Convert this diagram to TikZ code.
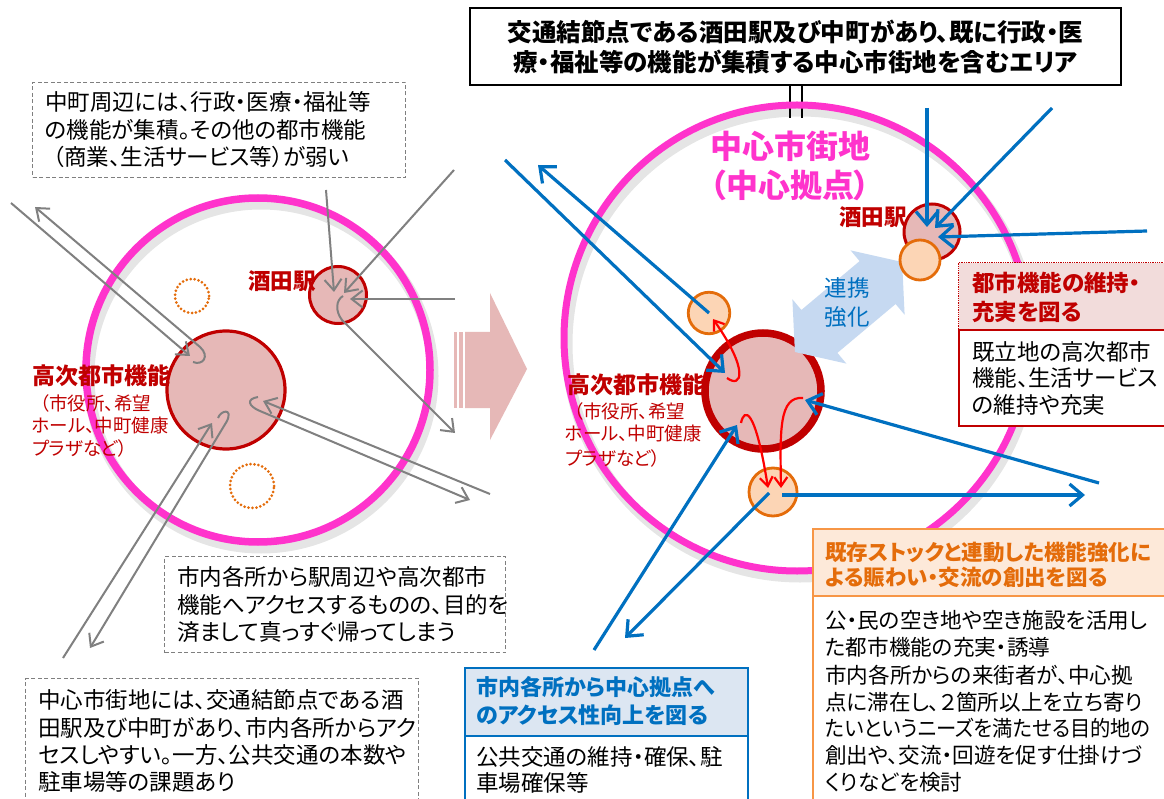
\documentclass[tikz,border=0pt]{standalone}
\usepackage{fontspec}
\newfontfamily\jp[RawFeature=+palt]{Noto Sans CJK JP}
\usetikzlibrary{arrows.meta}
\definecolor{pinkc}{HTML}{FF33CC}
\definecolor{dred}{HTML}{C00000}
\definecolor{cfill}{HTML}{E6B8B7}
\definecolor{ofill}{HTML}{FCD5B5}
\definecolor{oline}{HTML}{E46C0A}
\definecolor{blu}{HTML}{0070C0}
\definecolor{lblu}{HTML}{C6D9F1}
\definecolor{grayc}{HTML}{808080}
\definecolor{hred}{HTML}{F2DCDB}
\definecolor{horange}{HTML}{FDE9D9}
\definecolor{hblue}{HTML}{DCE6F2}
\definecolor{borange}{HTML}{F79646}
\definecolor{dashg}{HTML}{7F7F7F}
\newcommand\fsz[1]{\fontsize{#1pt}{#1pt}\selectfont}
\tikzset{
  txt/.style={font=\jp\fsz{22.5}, inner sep=0pt, anchor=west},
  otxt/.style={font=\jp\fsz{21.6}, inner sep=0pt, anchor=west},
  btxt/.style={font=\jp\bfseries\fsz{#1}, inner sep=0pt, anchor=west},
  stxt/.style={font=\jp\fsz{18.5}, text=dred, inner sep=0pt, anchor=west},
  dbox/.style={draw=dashg, line width=1pt, dash pattern=on 4pt off 2.5pt, anchor=north west, inner sep=0pt},
  ring/.style={circle, draw=pinkc, inner sep=0pt},
  bigc/.style={circle, draw=dred, fill=cfill, inner sep=0pt},
  orc/.style={circle, draw=oline, fill=ofill, line width=2.8pt, inner sep=0pt},
  dotc/.style={circle, draw=oline, line width=3pt, dash pattern=on 0pt off 4pt, line cap=round, inner sep=0pt},
  garr/.style={draw=grayc, line width=2pt, -{Straight Barb[length=11pt,width=17pt]}},
  barr/.style={draw=blu, line width=3.2pt, -{Straight Barb[length=13pt,width=22pt]}},
  rarr/.style={draw=red, line width=2.2pt, -{Straight Barb[length=9pt,width=13pt]}},
  shad/.style={draw=black, opacity=0.10, line width=11pt},
}
\begin{document}
\begin{tikzpicture}[x=1pt,y=-1pt]
\useasboundingbox (0,0) rectangle (1164,799);
\fill[white] (0,0) rectangle (1164,799);

% ===== LEFT DIAGRAM =====
\draw[shad] (261,376) circle[radius=172pt];
\node[ring, line width=7.5pt, minimum size=344pt] (Lring) at (258,370) {};
\node[dotc, minimum size=34pt] (Ld1) at (192,296) {};
\node[dotc, minimum size=44pt] (Ld2) at (252,486) {};
\node[bigc, line width=3.2pt, minimum size=118pt] (Lbig) at (226,390) {};
\node[bigc, line width=3pt, minimum size=57pt] (Lsta) at (338,295) {};

\node[btxt=22.5, text=dred, anchor=center] (LstaT) at (282,281) {酒田駅};
\node[btxt=23, text=dred] (LbigT) at (32,376) {高次都市機能};
\node[stxt] (LbigT1) at (40,403) {（市役所、希望};
\node[stxt] (LbigT2) at (32,426) {ホール、中町健康};
\node[stxt] (LbigT3) at (32,448) {プラザなど）};

% gray coordinates
\coordinate (g1s) at (11,203);   \coordinate (g1e) at (190,356);
\coordinate (g2s) at (193,362);  \coordinate (g2k) at (200,347); \coordinate (g2e) at (35,207);
\coordinate (g3s) at (326,190);  \coordinate (g3e) at (334,292);
\coordinate (g4s) at (454,170);  \coordinate (g4e) at (344,293);
\coordinate (g5s) at (455,299);  \coordinate (g5e) at (350,299);
\coordinate (g6s) at (343,296);  \coordinate (g6k) at (342,320); \coordinate (g6e) at (455,433);
\coordinate (g7s) at (490,494);  \coordinate (g7e) at (263,401);
\coordinate (g8s) at (258,397);  \coordinate (g8k) at (260,411); \coordinate (g8e) at (470,500);
\coordinate (g9s) at (63,658);   \coordinate (g9e) at (212,423);
\coordinate (g10s) at (218,418); \coordinate (g10k) at (227,421); \coordinate (g10e) at (90,648);

\draw[garr] (g1s) -- (g1e);
\draw[garr] (g2s) .. controls (203,366) and (210,356) .. (g2k) -- (g2e);
\draw[garr] (g3s) -- (g3e);
\draw[garr] (g4s) -- (g4e);
\draw[garr] (g5s) -- (g5e);
\draw[garr] (g6s) .. controls (336,300) and (335,311) .. (g6k) -- (g6e);
\draw[garr] (g7s) -- (g7e);
\draw[garr] (g8s) .. controls (246,399) and (248,406) .. (g8k) -- (g8e);
\draw[garr] (g9s) -- (g9e);
\draw[garr] (g10s) .. controls (221,410) and (233,408) .. (g10k) -- (g10e);

% left text boxes
\node[dbox, minimum width=373pt, minimum height=95pt] (TLbox) at (32,82) {};
\node[txt] (TL1) at (45,102) {中町周辺には、行政・医療・福祉等};
\node[txt] (TL2) at (45,130) {の機能が集積。その他の都市機能};
\node[txt] (TL3) at (53,157) {（商業、生活サービス等）が弱い};

\node[dbox, minimum width=341pt, minimum height=96pt] (MBbox) at (164,556) {};
\node[txt] (MB1) at (177,577) {市内各所から駅周辺や高次都市};
\node[txt] (MB2) at (177,605) {機能へアクセスするものの、目的を};
\node[txt] (MB3) at (177,632) {済まして真っすぐ帰ってしまう};

\node[dbox, minimum width=393pt, minimum height=140pt] (BLbox) at (25,678) {};
\node[txt] (BL1) at (38,700) {中心市街地には、交通結節点である酒};
\node[txt] (BL2) at (38,728) {田駅及び中町があり、市内各所からアク};
\node[txt] (BL3) at (38,755) {セスしやすい。一方、公共交通の本数や};
\node[txt] (BL4) at (38,782) {駐車場等の課題あり};

% ===== CENTER ARROW =====
\fill[cfill] (454,332) rectangle (457,408);
\fill[cfill] (459,332) rectangle (463,408);
\fill[cfill] (465,332) -- (490,332) -- (490,293) -- (527,369) -- (490,440) -- (490,408) -- (465,408) -- cycle;

% ===== TITLE =====
\draw[line width=2pt] (790,85) -- (790,118);
\draw[line width=2pt] (802,85) -- (802,118);
\node[draw, line width=2.2pt, minimum width=651pt, minimum height=77pt, inner sep=0pt, align=center,
      font=\jp\bfseries\fontsize{24.5pt}{30pt}\selectfont] (title) at (795.5,46.5)
  {交通結節点である酒田駅及び中町があり、既に行政・医\\療・福祉等の機能が集積する中心市街地を含むエリア};

% ===== RIGHT DIAGRAM =====
\draw[shad] (800,344) circle[radius=233pt];
\node[ring, line width=7pt, minimum size=466pt] (Rring) at (797,338) {};
\node[btxt=32, text=pinkc, anchor=center] (RringT1) at (790,146) {中心市街地};
\node[btxt=32, text=pinkc, anchor=center] (RringT2) at (790,185) {（中心拠点）};

\node[bigc, line width=7.5pt, minimum size=116pt] (Rbig) at (763,391) {};
\node[bigc, line width=3pt, minimum size=56pt] (Rsta) at (932,232) {};

% collaboration double arrow
\fill[lblu, shift={(848.5,307)}, rotate=40]
  (70,0) -- (38,42) -- (38,28) -- (-38,28) -- (-38,42) -- (-70,0)
  -- (-38,-42) -- (-38,-28) -- (38,-28) -- (38,-42) -- cycle;
\node[txt, text=blu, anchor=center] (renkei1) at (847,288) {連携};
\node[txt, text=blu, anchor=center] (renkei2) at (847,317) {強化};

\node[orc, minimum size=41.5pt] (O1) at (709,313) {};
\node[orc, minimum size=48pt] (O2) at (773,492) {};
\node[orc, minimum size=40pt] (O3) at (920,260) {};

\node[btxt=22.5, text=dred, anchor=center] (RstaT) at (873,217) {酒田駅};
\node[btxt=23, text=dred] (RbigT) at (567,385) {高次都市機能};
\node[stxt] (RbigT1) at (574,411) {（市役所、希望};
\node[stxt] (RbigT2) at (565,434) {ホール、中町健康};
\node[stxt] (RbigT3) at (565,458) {プラザなど）};

% blue coordinates
\coordinate (b1s) at (505,160);  \coordinate (b1e) at (725,373);
\coordinate (b2s) at (O1.center);\coordinate (b2e) at (538,165);
\coordinate (b3s) at (594,650);  \coordinate (b3e) at (737,425);
\coordinate (b4s) at (769,493);  \coordinate (b4e) at (625,638);
\coordinate (b5s) at (1099,483); \coordinate (b5e) at (805,400);
\coordinate (b6s) at (782,495);  \coordinate (b6e) at (1085,495);
\coordinate (b7s) at (927,108);  \coordinate (b7e) at (927,227);
\coordinate (b8s) at (1052,108); \coordinate (b8e) at (935,228);
\coordinate (b9s) at (1147,231); \coordinate (b9e) at (938,237);

\draw[barr] (b1s) -- (b1e);
\draw[barr] (b2s) -- (b2e);
\draw[barr] (b3s) -- (b3e);
\draw[barr] (b4s) -- (b4e);
\draw[barr] (b5s) -- (b5e);
\draw[barr] (b6s) -- (b6e);
\draw[barr] (b7s) -- (b7e);
\draw[barr] (b8s) -- (b8e);
\draw[barr] (b9s) -- (b9e);

% red hook arrows
\coordinate (r1s) at (727,378); \coordinate (r1e) at (713,319);
\coordinate (r2s) at (741,423); \coordinate (r2e) at (768,488);
\coordinate (r3s) at (803,398); \coordinate (r3e) at (781,488);
\draw[rarr] (r1s) .. controls (742,389) and (749,370) .. (r1e);
\draw[rarr] (r2s) .. controls (744,408) and (755,406) .. (r2e);
\draw[rarr] (r3s) .. controls (779,396) and (780,430) .. (r3e);

% ===== RIGHT BOXES =====
% red box
\node[draw=dred, fill=hred, line width=1.3pt, densely dotted, anchor=north west, minimum width=210pt, minimum height=67pt, inner sep=0pt] (RBh) at (958,262) {};
\node[draw=dred, fill=white, line width=1.6pt, anchor=north west, minimum width=210pt, minimum height=96pt, inner sep=0pt] (RBb) at (958,329) {};
\node[btxt=22.5, text=dred] (RBh1) at (972,283) {都市機能の維持・};
\node[btxt=22.5, text=dred] (RBh2) at (972,312) {充実を図る};
\node[txt] (RBb1) at (972,352) {既立地の高次都市};
\node[txt] (RBb2) at (972,378) {機能、生活サービス};
\node[txt] (RBb3) at (972,405) {の維持や充実};

% orange box
\node[draw=borange, fill=horange, line width=1.6pt, anchor=north west, minimum width=360pt, minimum height=67pt, inner sep=0pt] (OBh) at (812,528) {};
\node[draw=borange, fill=white, line width=1.6pt, anchor=north west, minimum width=360pt, minimum height=220pt, inner sep=0pt] (OBb) at (812,595) {};
\node[btxt=21.5, text=oline] (OBh1) at (825,552) {既存ストックと連動した機能強化に};
\node[btxt=21.5, text=oline] (OBh2) at (825,577) {よる賑わい・交流の創出を図る};
\node[otxt] (OB1) at (825,620) {公・民の空き地や空き施設を活用し};
\node[otxt] (OB2) at (825,647) {た都市機能の充実・誘導};
\node[otxt] (OB3) at (825,675) {市内各所からの来街者が、中心拠};
\node[otxt] (OB4) at (825,702) {点に滞在し、２箇所以上を立ち寄り};
\node[otxt] (OB5) at (825,728) {\scalebox{0.94}[1]{たいというニーズを満たせる目的地の}};
\node[otxt] (OB6) at (825,755) {創出や、交流・回遊を促す仕掛けづ};
\node[otxt] (OB7) at (825,782) {くりなどを検討};

% blue box
\node[draw=blu, fill=hblue, line width=1.6pt, anchor=north west, minimum width=283pt, minimum height=68pt, inner sep=0pt] (BBh) at (464,667) {};
\node[draw=blu, fill=white, line width=1.6pt, anchor=north west, minimum width=283pt, minimum height=80pt, inner sep=0pt] (BBb) at (464,735) {};
\node[btxt=22, text=blu] (BBh1) at (476,687) {市内各所から中心拠点へ};
\node[btxt=22, text=blu] (BBh2) at (476,715) {のアクセス性向上を図る};
\node[txt] (BB1) at (476,757) {公共交通の維持・確保、駐};
\node[txt] (BB2) at (476,783) {車場確保等};
\end{tikzpicture}
\end{document}
